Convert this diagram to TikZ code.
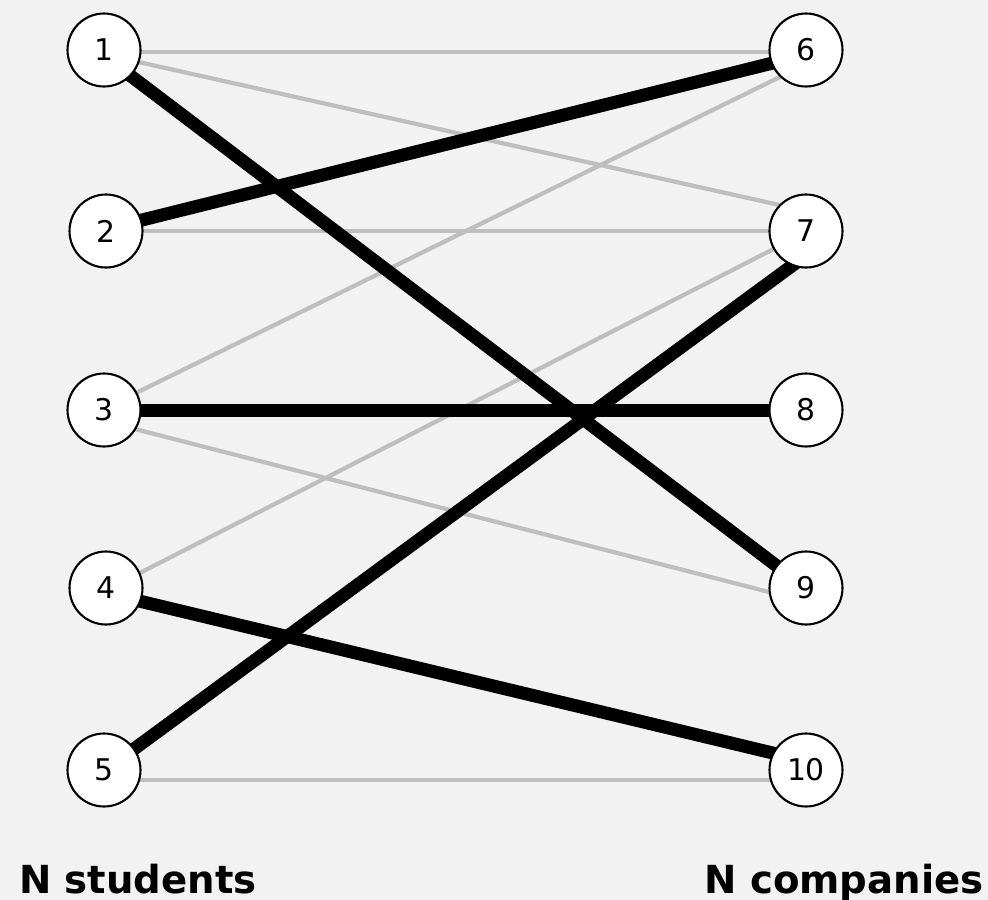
\documentclass[tikz,border=0pt]{standalone}
\usepackage{fontspec}
\setmainfont{DejaVu Sans}
\pgfdeclarelayer{bg}
\pgfdeclarelayer{edges}
\pgfsetlayers{bg,edges,main}
\definecolor{bgcol}{RGB}{242,242,242}
\definecolor{lightedge}{RGB}{190,190,190}
\tikzset{
  vert/.style={circle, draw=black, line width=1.2pt, fill=white, minimum size=1.46cm, inner sep=0pt, font=\fontsize{17}{17}\selectfont},
  thin edge/.style={draw=lightedge, line width=2.4pt, shorten <=-4pt, shorten >=-4pt},
  match edge/.style={draw=black, line width=7.4pt, shorten <=-6pt, shorten >=-6pt},
  caption/.style={anchor=base, font=\fontsize{22}{22}\selectfont\bfseries}
}
\begin{document}
\begin{tikzpicture}[x=0.02cm, y=-0.02cm]
\begin{pgfonlayer}{bg}
  \fill[bgcol] (0,0) rectangle (988,900);
\end{pgfonlayer}
\useasboundingbox (0,0) rectangle (988,900);
% students
\node[vert] (n1) at (104,50) {1};
\node[vert] (n2) at (106,231) {2};
\node[vert] (n3) at (104,410) {3};
\node[vert] (n4) at (106,588) {4};
\node[vert] (n5) at (104,770) {5};
% companies
\node[vert] (n6) at (806,50) {6};
\node[vert] (n7) at (806,231) {7};
\node[vert] (n8) at (806,410) {8};
\node[vert] (n9) at (806,588) {9};
\node[vert] (n10) at (806,770) {10};
\begin{pgfonlayer}{edges}
  \draw[thin edge] (n1.-3) -- (n6.183);
  \draw[thin edge] (n1.-19) -- (n7.136);
  \draw[thin edge] (n2.0) -- (n7.180);
  \draw[thin edge] (n3.28) -- (n6.226);
  \draw[thin edge] (n3.-31) -- (n9.186);
  \draw[thin edge] (n4.24) -- (n7.209);
  \draw[thin edge] (n5.-16) -- (n10.196);
  \draw[match edge] (n1.-44) -- (n9.143);
  \draw[match edge] (n2.17) -- (n6.201);
  \draw[match edge] (n3.0) -- (n8.180);
  \draw[match edge] (n4.-21) -- (n10.153);
  \draw[match edge] (n5.35) -- (n7.248);
\end{pgfonlayer}
\node[caption] (cs) at (138,893) {N students};
\node[caption] (cc) at (844,893) {N companies};
\end{tikzpicture}
\end{document}
